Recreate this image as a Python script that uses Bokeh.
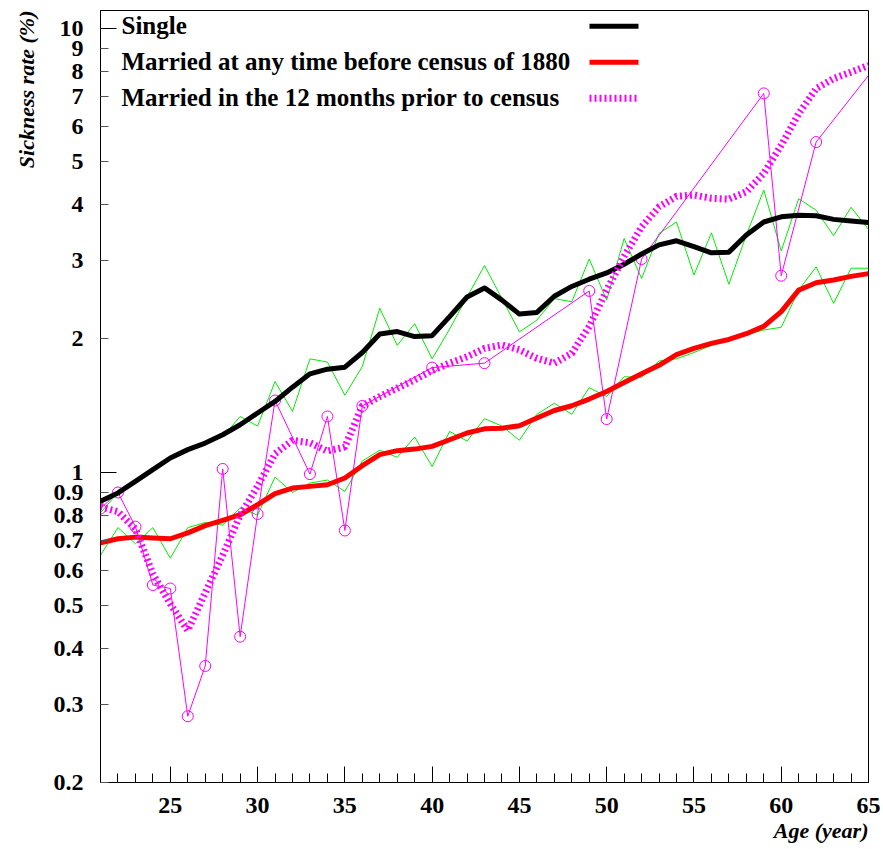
from bokeh.plotting import figure
from bokeh.models import Range1d, FixedTicker, LogAxis, Label, Arrow, Title
from bokeh.embed import file_html
from bokeh.resources import INLINE

# ---------------- data ----------------
ages = [21, 22, 23, 24, 25, 26, 27, 28, 29, 30, 31, 32, 33, 34, 35, 36, 37, 38, 39, 40,
        41, 42, 43, 44, 45, 46, 47, 48, 49, 50, 51, 52, 53, 54, 55, 56, 57, 58, 59, 60,
        61, 62, 63, 64, 65]

# raw yearly rates (thin green lines)
single_raw = [0.81, 0.90, 0.95, 1.01, 1.085, 1.12, 1.16, 1.20, 1.335, 1.27,
              1.60, 1.37, 1.80, 1.77, 1.49, 1.73, 2.34, 1.93, 2.16, 1.80,
              2.10, 2.48, 2.92, 2.46, 2.07, 2.20, 2.46, 2.42, 3.02, 2.44,
              3.36, 2.73, 3.45, 3.66, 2.78, 3.46, 2.65, 3.42, 4.32, 3.15,
              4.13, 3.89, 3.41, 3.95, 3.52]
married_raw = [0.65, 0.75, 0.69, 0.75, 0.64, 0.75, 0.77, 0.76, 0.83, 0.80,
               0.975, 0.90, 0.945, 0.96, 0.905, 1.06, 1.12, 1.08, 1.20, 1.03,
               1.235, 1.175, 1.32, 1.27, 1.18, 1.35, 1.43, 1.35, 1.55, 1.48,
               1.64, 1.635, 1.78, 1.80, 1.86, 1.93, 1.99, 2.04, 2.09, 2.12,
               2.57, 2.90, 2.40, 2.88, 2.88]

# married in the 12 months prior to census (thin magenta with circles)
recent_ages = [21, 22, 23, 24, 25, 26, 27, 28, 29, 30, 31, 33, 34, 35, 36, 40, 43,
               49, 50, 52, 59, 60, 62, 65]
recent_raw = [0.828, 0.90, 0.754, 0.557, 0.547, 0.282, 0.366, 1.017, 0.426, 0.805,
              1.45, 0.99, 1.335, 0.739, 1.41, 1.72, 1.76, 2.56, 1.317, 3.02,
              7.13, 2.77, 5.54, 7.83]
recent_marker_ages = [21, 22, 23, 24, 25, 26, 27, 28, 29, 30, 31, 33, 34, 35, 36, 40, 43,
                      49, 50, 52, 59, 60, 62]
recent_marker_raw = [0.828, 0.90, 0.754, 0.557, 0.547, 0.282, 0.366, 1.017, 0.426, 0.805,
                     1.45, 0.99, 1.335, 0.739, 1.41, 1.72, 1.76, 2.56, 1.317, 3.02,
                     7.13, 2.77, 5.54]

# smoothed curves
single_smooth = [0.86, 0.898, 0.953, 1.013, 1.076, 1.124, 1.163, 1.214, 1.279, 1.359,
                 1.443, 1.554, 1.665, 1.706, 1.724, 1.86, 2.048, 2.073, 2.02, 2.03,
                 2.24, 2.48, 2.60, 2.44, 2.27, 2.29, 2.49, 2.62, 2.72, 2.81,
                 2.94, 3.10, 3.25, 3.32, 3.22, 3.12, 3.13, 3.42, 3.66, 3.76,
                 3.79, 3.78, 3.71, 3.68, 3.65]
married_smooth = [0.693, 0.708, 0.714, 0.711, 0.708, 0.730, 0.758, 0.779, 0.802, 0.845,
                  0.895, 0.921, 0.929, 0.937, 0.970, 1.034, 1.095, 1.118, 1.127, 1.143,
                  1.183, 1.225, 1.252, 1.256, 1.272, 1.324, 1.377, 1.411, 1.461, 1.52,
                  1.592, 1.665, 1.74, 1.84, 1.90, 1.95, 1.99, 2.05, 2.13, 2.30,
                  2.57, 2.67, 2.71, 2.76, 2.80]
recent_smooth = [0.835, 0.815, 0.745, 0.59, 0.505, 0.44, 0.535, 0.65, 0.80, 0.93,
                 1.10, 1.18, 1.165, 1.115, 1.14, 1.41, 1.48, 1.546, 1.614, 1.694,
                 1.76, 1.82, 1.90, 1.935, 1.886, 1.805, 1.76, 1.853, 2.13, 2.57,
                 3.06, 3.57, 3.96, 4.18, 4.21, 4.14, 4.12, 4.28, 4.71, 5.45,
                 6.42, 7.31, 7.70, 7.96, 8.25]

x_major_ticks = [25, 30, 35, 40, 45, 50, 55, 60, 65]
x_minor_ticks = [22, 23, 24, 26, 27, 28, 29, 31, 32, 33, 34, 36, 37, 38, 39, 41, 42, 43, 44,
                 46, 47, 48, 49, 51, 52, 53, 54, 56, 57, 58, 59, 61, 62, 63, 64]
y_ticks = [0.2, 0.3, 0.4, 0.5, 0.6, 0.7, 0.8, 0.9, 1, 2, 3, 4, 5, 6, 7, 8, 9, 10]
y_tick_labels = ["0.2", "0.3", "0.4", "0.5", "0.6", "0.7", "0.8", "0.9", "1",
                 "2", "3", "4", "5", "6", "7", "8", "9", "10"]
y_decade_ticks = [1, 10]

legend_labels = ["Single", "Married at any time before census of 1880",
                 "Married in the 12 months prior to census"]
x_title = "Age (year)"
y_title = "Sickness rate (%)"

# ---------------- figure ----------------
FONT = "Liberation Serif"
W, H = 883, 849
ML, MR, MT, MB = 99, 15, 10, 67
FW, FH = W - ML - MR, H - MT - MB

p = figure(width=W, height=H, x_range=Range1d(21, 65), y_range=Range1d(0.2, 10.96),
           y_axis_type="log", output_backend="svg", toolbar_location=None,
           min_border_left=ML, min_border_right=MR, min_border_top=MT, min_border_bottom=MB)
p.grid.visible = False
p.outline_line_color = "black"
p.outline_line_width = 1
p.background_fill_color = "white"
p.border_fill_color = "white"

xa = p.xaxis[0]
xa.ticker = FixedTicker(ticks=x_major_ticks, minor_ticks=x_minor_ticks)
xa.major_tick_in = 16
xa.major_tick_out = 0
xa.minor_tick_in = 9
xa.minor_tick_out = 0
xa.major_tick_line_color = "black"
xa.minor_tick_line_color = "black"
xa.axis_line_color = "black"
xa.major_label_standoff = 15
xa.major_label_text_font = FONT
xa.major_label_text_font_style = "bold"
xa.major_label_text_font_size = "24px"
xa.major_label_text_color = "black"

ya = p.yaxis[0]
ya.ticker = FixedTicker(ticks=y_ticks, minor_ticks=[])
ya.major_label_overrides = {t: lab for t, lab in zip(y_ticks, y_tick_labels)}
ya.major_tick_in = 8
ya.major_tick_out = 0
ya.minor_tick_line_color = None
ya.major_tick_line_color = "#555555"
ya.axis_line_color = "black"
ya.major_label_standoff = 17
ya.major_label_text_font = FONT
ya.major_label_text_font_style = "bold"
ya.major_label_text_font_size = "24px"
ya.major_label_text_color = "black"

# long ticks at the decades
ya2 = LogAxis(ticker=FixedTicker(ticks=y_decade_ticks, minor_ticks=[]), fixed_location=21,
              major_tick_in=16, major_tick_out=0, minor_tick_line_color=None,
              axis_line_color=None, major_tick_line_color="black",
              major_label_text_alpha=0, major_label_standoff=17,
              major_label_text_font=FONT, major_label_text_font_size="24px")
p.add_layout(ya2, "left")

# axis titles
p.add_layout(Title(text=y_title, align="right", text_font=FONT,
                   text_font_style="bold italic", text_font_size="22px",
                   text_color="black", standoff=23), "left")
p.add_layout(Title(text=x_title, align="right", text_font=FONT,
                   text_font_style="bold italic", text_font_size="22px",
                   text_color="black", standoff=0), "below")

# ---------------- glyphs ----------------
p.line(ages, single_raw, line_color="#00ee00", line_width=1)
p.line(ages, married_raw, line_color="#00ee00", line_width=1)
p.line(recent_ages, recent_raw, line_color="#ff00ff", line_width=1)
p.scatter(recent_marker_ages, recent_marker_raw, marker="circle", size=11,
          fill_color=None, line_color="#ff00ff", line_width=1)

p.line(ages, single_smooth, line_color="black", line_width=5, line_join="round")
p.line(ages, married_smooth, line_color="#ff0000", line_width=5, line_join="round")
p.line(ages, recent_smooth, line_color="#ff00ff", line_width=7, line_dash="2 3")

# ---------------- legend (text left, sample line right) ----------------
styles = [dict(line_color="black", line_width=5),
          dict(line_color="#ff0000", line_width=5),
          dict(line_color="#ff00ff", line_width=7, line_dash="2 3")]
text_base = [15, 50.7, 87]     # offsets from frame top
line_y = [15.7, 51.7, 87.7]
for lab, st, tb, ly in zip(legend_labels, styles, text_base, line_y):
    p.add_layout(Label(x=21, y=FH - tb, x_units="screen", y_units="screen", text=lab,
                       text_font=FONT, text_font_style="bold", text_font_size="25px",
                       text_color="black", text_baseline="alphabetic", text_align="left"))
    p.add_layout(Arrow(start=None, end=None, x_start=489, y_start=FH - ly, x_end=538,
                       y_end=FH - ly, start_units="screen", end_units="screen", **st))

open("out.html", "w").write(file_html(p, INLINE))
